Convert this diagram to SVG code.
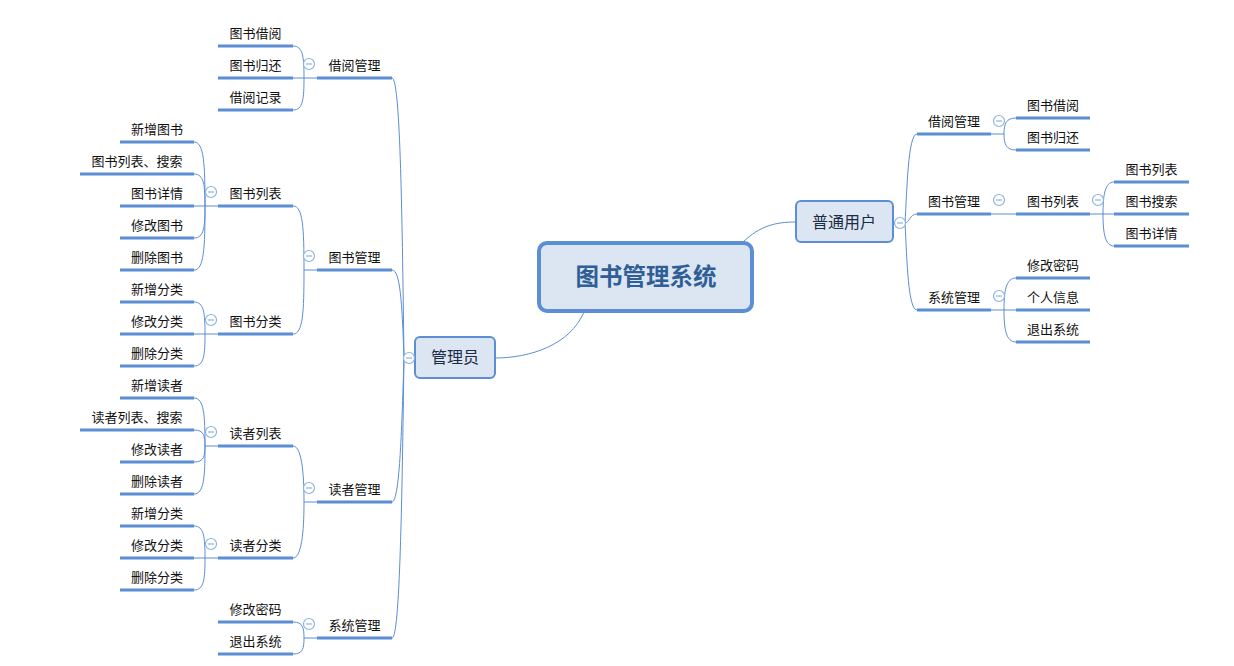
<svg xmlns="http://www.w3.org/2000/svg" width="1234" height="666" viewBox="0 0 1234 666">
<style>
.bg{fill:#ffffff}
.ul{stroke:#5b8ed4;stroke-width:3;fill:none}
.cn{stroke:#5b8ed4;stroke-width:1;fill:none}
.t{font-family:"Noto Sans CJK SC","Microsoft YaHei",sans-serif;font-size:13px;fill:#111111;text-anchor:middle}
.tb{font-family:"Noto Sans CJK SC","Microsoft YaHei",sans-serif;font-size:16px;fill:#1c2b45;text-anchor:middle}
.tc{font-family:"Noto Sans CJK SC","Microsoft YaHei",sans-serif;font-size:23.5px;font-weight:bold;fill:#305e96;text-anchor:middle}
.box{fill:#dce6f2;stroke:#5b8ed4;stroke-width:2}
.root{fill:#dce6f2;stroke:#5b8ed4;stroke-width:4}
.tg circle{fill:#ffffff;stroke:#8db2e2;stroke-width:1.2}
.tg line{stroke:#8db2e2;stroke-width:1.2}
</style>
<defs>
<g id="tog" class="tg"><circle cx="0" cy="0" r="5.5"/><line x1="-3" y1="0" x2="3" y2="0"/></g>
</defs>
<rect class="bg" x="0" y="0" width="1234" height="666"/>

<g id="connectors">
<path class="cn" d="M584,312 C570,345 530,358 495,358"/>
<path class="cn" d="M743,242 C760,226 775,222 796,222"/>
<path class="cn" d="M392,78 C400,78 402,200 404,358"/>
<path class="cn" d="M392,270 C400,270 402,300 404,358"/>
<path class="cn" d="M392,502 C400,502 402,420 404,358"/>
<path class="cn" d="M392,638 C400,638 402,500 404,358"/>
<path class="cn" d="M293,46 C303,46 304,57 304,78"/>
<path class="cn" d="M293,110 C303,110 304,99 304,78"/>
<path class="cn" d="M293,78 L317,78"/>
<path class="cn" d="M293,206 C303,206 304,228 304,270"/>
<path class="cn" d="M293,334 C303,334 304,312 304,270"/>
<path class="cn" d="M304,270 L317,270"/>
<path class="cn" d="M194,142 C204,142 205,164 205,206"/>
<path class="cn" d="M194,174 C204,174 205,185 205,206"/>
<path class="cn" d="M194,238 C204,238 205,227 205,206"/>
<path class="cn" d="M194,270 C204,270 205,248 205,206"/>
<path class="cn" d="M194,206 L218,206"/>
<path class="cn" d="M194,302 C204,302 205,313 205,334"/>
<path class="cn" d="M194,366 C204,366 205,355 205,334"/>
<path class="cn" d="M194,334 L218,334"/>
<path class="cn" d="M293,446 C303,446 304,482 304,502"/>
<path class="cn" d="M293,558 C303,558 304,522 304,502"/>
<path class="cn" d="M304,502 L317,502"/>
<path class="cn" d="M194,398 C204,398 205,415 205,446"/>
<path class="cn" d="M194,430 C204,430 205,436 205,446"/>
<path class="cn" d="M194,462 C204,462 205,456 205,446"/>
<path class="cn" d="M194,494 C204,494 205,477 205,446"/>
<path class="cn" d="M205,446 L218,446"/>
<path class="cn" d="M194,526 C204,526 205,537 205,558"/>
<path class="cn" d="M194,590 C204,590 205,579 205,558"/>
<path class="cn" d="M194,558 L218,558"/>
<path class="cn" d="M293,622 C303,622 304,628 304,638"/>
<path class="cn" d="M293,654 C303,654 304,648 304,638"/>
<path class="cn" d="M304,638 L317,638"/>
<path class="cn" d="M905,223 C907,190 908,134 917,134"/>
<path class="cn" d="M905,223 C909,223 910,214 917,214"/>
<path class="cn" d="M905,223 C907,260 908,310 917,310"/>
<path class="cn" d="M991,134 L1004,134"/>
<path class="cn" d="M1004,134 C1004,124 1006,118 1016,118"/>
<path class="cn" d="M1004,134 C1004,144 1006,150 1016,150"/>
<path class="cn" d="M991,214 L1016,214"/>
<path class="cn" d="M1090,214 L1114,214"/>
<path class="cn" d="M1103,214 C1103,195 1105,182 1114,182"/>
<path class="cn" d="M1103,214 C1103,233 1105,246 1114,246"/>
<path class="cn" d="M991,310 L1016,310"/>
<path class="cn" d="M1004,310 C1004,291 1006,278 1016,278"/>
<path class="cn" d="M1004,310 C1004,329 1006,342 1016,342"/>
</g>

<g id="root">
<rect class="root" x="539" y="243" width="213" height="68" rx="8"/>
<text class="tc" x="646" y="285">图书管理系统</text>
</g>

<g id="admin">
<rect class="box" x="415" y="337" width="80" height="41" rx="5"/>
<text class="tb" x="455" y="363">管理员</text>
<use href="#tog" x="409" y="358"/>
</g>

<g id="user">
<rect class="box" x="796" y="201" width="97" height="41" rx="5"/>
<text class="tb" x="844" y="228">普通用户</text>
<use href="#tog" x="900" y="223"/>
</g>

<g id="a-borrow"><line class="ul" x1="317" y1="78" x2="392" y2="78"/><text class="t" x="354.5" y="70">借阅管理</text><use href="#tog" x="309" y="64"/></g>
<g id="a-book"><line class="ul" x1="317" y1="270" x2="392" y2="270"/><text class="t" x="354.5" y="262">图书管理</text><use href="#tog" x="309" y="256"/></g>
<g id="a-reader"><line class="ul" x1="317" y1="502" x2="392" y2="502"/><text class="t" x="354.5" y="494">读者管理</text><use href="#tog" x="309" y="488"/></g>
<g id="a-sys"><line class="ul" x1="317" y1="638" x2="392" y2="638"/><text class="t" x="354.5" y="630">系统管理</text><use href="#tog" x="309" y="624"/></g>

<g id="a-booklist"><line class="ul" x1="218" y1="206" x2="293" y2="206"/><text class="t" x="255.5" y="198">图书列表</text><use href="#tog" x="211" y="192"/></g>
<g id="a-bookcat"><line class="ul" x1="218" y1="334" x2="293" y2="334"/><text class="t" x="255.5" y="326">图书分类</text><use href="#tog" x="211" y="320"/></g>
<g id="a-readerlist"><line class="ul" x1="218" y1="446" x2="293" y2="446"/><text class="t" x="255.5" y="438">读者列表</text><use href="#tog" x="211" y="432"/></g>
<g id="a-readercat"><line class="ul" x1="218" y1="558" x2="293" y2="558"/><text class="t" x="255.5" y="550">读者分类</text><use href="#tog" x="211" y="544"/></g>

<g id="a-b1"><line class="ul" x1="218" y1="46" x2="293" y2="46"/><text class="t" x="255.5" y="38">图书借阅</text></g>
<g id="a-b2"><line class="ul" x1="218" y1="78" x2="293" y2="78"/><text class="t" x="255.5" y="70">图书归还</text></g>
<g id="a-b3"><line class="ul" x1="218" y1="110" x2="293" y2="110"/><text class="t" x="255.5" y="102">借阅记录</text></g>

<g id="a-bl1"><line class="ul" x1="120" y1="142" x2="194" y2="142"/><text class="t" x="157" y="134">新增图书</text></g>
<g id="a-bl2"><line class="ul" x1="80" y1="174" x2="194" y2="174"/><text class="t" x="137" y="166">图书列表、搜索</text></g>
<g id="a-bl3"><line class="ul" x1="120" y1="206" x2="194" y2="206"/><text class="t" x="157" y="198">图书详情</text></g>
<g id="a-bl4"><line class="ul" x1="120" y1="238" x2="194" y2="238"/><text class="t" x="157" y="230">修改图书</text></g>
<g id="a-bl5"><line class="ul" x1="120" y1="270" x2="194" y2="270"/><text class="t" x="157" y="262">删除图书</text></g>

<g id="a-bc1"><line class="ul" x1="120" y1="302" x2="194" y2="302"/><text class="t" x="157" y="294">新增分类</text></g>
<g id="a-bc2"><line class="ul" x1="120" y1="334" x2="194" y2="334"/><text class="t" x="157" y="326">修改分类</text></g>
<g id="a-bc3"><line class="ul" x1="120" y1="366" x2="194" y2="366"/><text class="t" x="157" y="358">删除分类</text></g>

<g id="a-rl1"><line class="ul" x1="120" y1="398" x2="194" y2="398"/><text class="t" x="157" y="390">新增读者</text></g>
<g id="a-rl2"><line class="ul" x1="80" y1="430" x2="194" y2="430"/><text class="t" x="137" y="422">读者列表、搜索</text></g>
<g id="a-rl3"><line class="ul" x1="120" y1="462" x2="194" y2="462"/><text class="t" x="157" y="454">修改读者</text></g>
<g id="a-rl4"><line class="ul" x1="120" y1="494" x2="194" y2="494"/><text class="t" x="157" y="486">删除读者</text></g>

<g id="a-rc1"><line class="ul" x1="120" y1="526" x2="194" y2="526"/><text class="t" x="157" y="518">新增分类</text></g>
<g id="a-rc2"><line class="ul" x1="120" y1="558" x2="194" y2="558"/><text class="t" x="157" y="550">修改分类</text></g>
<g id="a-rc3"><line class="ul" x1="120" y1="590" x2="194" y2="590"/><text class="t" x="157" y="582">删除分类</text></g>

<g id="a-s1"><line class="ul" x1="218" y1="622" x2="293" y2="622"/><text class="t" x="255.5" y="614">修改密码</text></g>
<g id="a-s2"><line class="ul" x1="218" y1="654" x2="293" y2="654"/><text class="t" x="255.5" y="646">退出系统</text></g>

<g id="u-borrow"><line class="ul" x1="917" y1="134" x2="991" y2="134"/><text class="t" x="954" y="126">借阅管理</text><use href="#tog" x="999" y="121"/></g>
<g id="u-book"><line class="ul" x1="917" y1="214" x2="991" y2="214"/><text class="t" x="954" y="206">图书管理</text><use href="#tog" x="999" y="200"/></g>
<g id="u-sys"><line class="ul" x1="917" y1="310" x2="991" y2="310"/><text class="t" x="954" y="302">系统管理</text><use href="#tog" x="999" y="296"/></g>

<g id="u-b1"><line class="ul" x1="1016" y1="118" x2="1090" y2="118"/><text class="t" x="1053" y="110">图书借阅</text></g>
<g id="u-b2"><line class="ul" x1="1016" y1="150" x2="1090" y2="150"/><text class="t" x="1053" y="142">图书归还</text></g>

<g id="u-booklist"><line class="ul" x1="1016" y1="214" x2="1090" y2="214"/><text class="t" x="1053" y="206">图书列表</text><use href="#tog" x="1098" y="200"/></g>
<g id="u-bl1"><line class="ul" x1="1114" y1="182" x2="1189" y2="182"/><text class="t" x="1151.5" y="174">图书列表</text></g>
<g id="u-bl2"><line class="ul" x1="1114" y1="214" x2="1189" y2="214"/><text class="t" x="1151.5" y="206">图书搜索</text></g>
<g id="u-bl3"><line class="ul" x1="1114" y1="246" x2="1189" y2="246"/><text class="t" x="1151.5" y="238">图书详情</text></g>

<g id="u-s1"><line class="ul" x1="1016" y1="278" x2="1090" y2="278"/><text class="t" x="1053" y="270">修改密码</text></g>
<g id="u-s2"><line class="ul" x1="1016" y1="310" x2="1090" y2="310"/><text class="t" x="1053" y="302">个人信息</text></g>
<g id="u-s3"><line class="ul" x1="1016" y1="342" x2="1090" y2="342"/><text class="t" x="1053" y="334">退出系统</text></g>
</svg>
